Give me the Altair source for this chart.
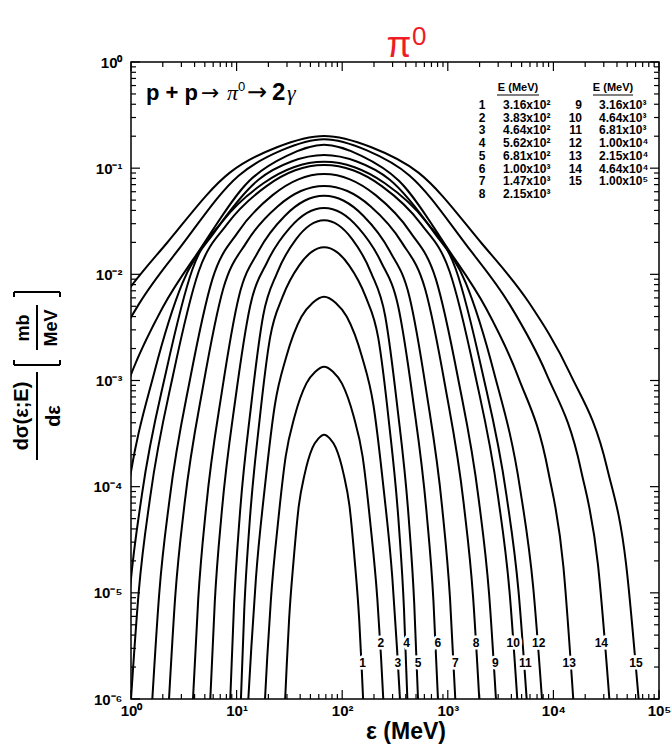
import altair as alt
import pandas as pd

# log10(eps / MeV) and log10(dsigma/deps / (mb/MeV)) along each curve
c01_log_eps = [1.460, 1.475, 1.497, 1.541, 1.589, 1.644, 1.718, 1.774, 1.829, 1.884, 1.940, 2.014, 2.069, 2.117, 2.161, 2.183, 2.198]
c01_log_sig = [-6.0, -5.676, -5.253, -4.68, -4.182, -3.884, -3.635, -3.547, -3.51, -3.547, -3.635, -3.884, -4.182, -4.68, -5.253, -5.676, -6.0]
c02_log_eps = [1.269, 1.291, 1.325, 1.392, 1.465, 1.549, 1.661, 1.745, 1.829, 1.913, 1.997, 2.109, 2.193, 2.266, 2.333, 2.367, 2.389]
c02_log_sig = [-6.0, -5.593, -5.061, -4.341, -3.715, -3.34, -3.027, -2.917, -2.87, -2.917, -3.027, -3.34, -3.715, -4.341, -5.061, -5.593, -6.0]
c03_log_eps = [1.111, 1.140, 1.183, 1.269, 1.362, 1.470, 1.614, 1.721, 1.829, 1.937, 2.044, 2.188, 2.296, 2.389, 2.475, 2.518, 2.547]
c03_log_sig = [-6.0, -5.507, -4.863, -3.991, -3.233, -2.779, -2.40, -2.267, -2.21, -2.267, -2.40, -2.779, -3.233, -3.991, -4.863, -5.507, -6.0]
c04_log_eps = [1.041, 1.073, 1.120, 1.214, 1.317, 1.435, 1.593, 1.711, 1.829, 1.947, 2.065, 2.223, 2.341, 2.444, 2.538, 2.585, 2.617]
c04_log_sig = [-6.0, -5.149, -4.383, -3.404, -2.596, -2.213, -1.915, -1.788, -1.745, -1.788, -1.915, -2.213, -2.596, -3.404, -4.383, -5.149, -6.0]
c05_log_eps = [0.940, 0.976, 1.029, 1.136, 1.251, 1.384, 1.562, 1.696, 1.829, 1.962, 2.096, 2.274, 2.407, 2.522, 2.629, 2.682, 2.718]
c05_log_sig = [-6.0, -5.098, -4.286, -3.249, -2.392, -1.986, -1.67, -1.535, -1.49, -1.535, -1.67, -1.986, -2.392, -3.249, -4.286, -5.098, -6.0]
c06_log_eps = [0.751, 0.794, 0.859, 0.988, 1.128, 1.290, 1.506, 1.667, 1.829, 1.991, 2.152, 2.368, 2.530, 2.670, 2.799, 2.864, 2.907]
c06_log_sig = [-6.0, -5.075, -4.243, -3.179, -2.30, -1.884, -1.56, -1.421, -1.375, -1.421, -1.56, -1.884, -2.30, -3.179, -4.243, -5.075, -6.0]
c07_log_eps = [0.587, 0.637, 0.711, 0.860, 1.022, 1.208, 1.456, 1.643, 1.829, 2.015, 2.202, 2.450, 2.636, 2.798, 2.947, 3.021, 3.071]
c07_log_sig = [-6.0, -5.052, -4.199, -3.109, -2.208, -1.781, -1.45, -1.307, -1.26, -1.307, -1.45, -1.781, -2.208, -3.109, -4.199, -5.052, -6.0]
c08_log_eps = [0.360, 0.419, 0.507, 0.683, 0.874, 1.094, 1.388, 1.609, 1.829, 2.049, 2.270, 2.564, 2.784, 2.975, 3.151, 3.239, 3.298]
c08_log_sig = [-6.0, -5.033, -4.163, -3.052, -2.134, -1.699, -1.36, -1.215, -1.167, -1.215, -1.36, -1.699, -2.134, -3.052, -4.163, -5.033, -6.0]
c09_log_eps = [0.202, 0.267, 0.365, 0.560, 0.771, 1.015, 1.341, 1.585, 1.829, 2.073, 2.317, 2.643, 2.887, 3.098, 3.293, 3.391, 3.456]
c09_log_sig = [-6.0, -5.011, -4.121, -2.984, -2.045, -1.60, -1.254, -1.105, -1.056, -1.105, -1.254, -1.60, -2.045, -2.984, -4.121, -5.011, -6.0]
c10_log_eps = [0.0, 0.073, 0.183, 0.402, 0.640, 0.914, 1.280, 1.555, 1.829, 2.103, 2.378, 2.744, 3.018, 3.256, 3.475, 3.585, 3.658]
c10_log_sig = [-6.0, -4.994, -4.089, -2.932, -1.976, -1.523, -1.171, -1.02, -0.97, -1.02, -1.171, -1.523, -1.976, -2.932, -4.089, -4.994, -6.0]
c11_log_eps = [-0.089, -0.012, 0.103, 0.333, 0.582, 0.870, 1.254, 1.541, 1.829, 2.117, 2.404, 2.788, 3.076, 3.325, 3.555, 3.670, 3.747]
c11_log_sig = [-6.0, -4.988, -4.077, -2.913, -1.952, -1.497, -1.142, -0.991, -0.94, -0.991, -1.142, -1.497, -1.952, -2.913, -4.077, -4.988, -6.0]
c12_log_eps = [-0.234, -0.151, -0.028, 0.220, 0.488, 0.797, 1.210, 1.520, 1.829, 2.138, 2.448, 2.861, 3.170, 3.438, 3.686, 3.809, 3.892]
c12_log_sig = [-6.0, -4.95, -4.027, -2.926, -2.08, -1.593, -1.107, -0.937, -0.876, -0.937, -1.107, -1.593, -2.08, -2.926, -4.027, -4.95, -6.0]
c13_log_eps = [-0.530, -0.436, -0.294, -0.011, 0.296, 0.649, 1.121, 1.475, 1.829, 2.183, 2.537, 3.009, 3.362, 3.669, 3.952, 4.094, 4.188]
c13_log_sig = [-6.0, -4.747, -3.86, -2.972, -2.32, -1.772, -1.119, -0.884, -0.78, -0.884, -1.119, -1.772, -2.32, -2.972, -3.86, -4.747, -6.0]
c14_log_eps = [-0.872, -0.764, -0.602, -0.278, 0.073, 0.478, 1.019, 1.424, 1.829, 2.234, 2.639, 3.180, 3.585, 3.936, 4.260, 4.422, 4.530]
c14_log_sig = [-6.0, -4.735, -3.838, -2.942, -2.283, -1.73, -1.071, -0.833, -0.728, -0.833, -1.071, -1.73, -2.283, -2.942, -3.838, -4.735, -6.0]
c15_log_eps = [-1.149, -1.030, -0.851, -0.494, -0.107, 0.340, 0.936, 1.382, 1.829, 2.276, 2.722, 3.318, 3.765, 4.152, 4.509, 4.688, 4.807]
c15_log_sig = [-6.0, -4.727, -3.826, -2.924, -2.261, -1.705, -1.042, -0.803, -0.697, -0.803, -1.042, -1.705, -2.261, -2.924, -3.826, -4.727, -6.0]

curves = [
    (c01_log_eps, c01_log_sig), (c02_log_eps, c02_log_sig), (c03_log_eps, c03_log_sig),
    (c04_log_eps, c04_log_sig), (c05_log_eps, c05_log_sig), (c06_log_eps, c06_log_sig),
    (c07_log_eps, c07_log_sig), (c08_log_eps, c08_log_sig), (c09_log_eps, c09_log_sig),
    (c10_log_eps, c10_log_sig), (c11_log_eps, c11_log_sig), (c12_log_eps, c12_log_sig),
    (c13_log_eps, c13_log_sig), (c14_log_eps, c14_log_sig), (c15_log_eps, c15_log_sig),
]

# proton kinetic energies listed in the key
beam_energy = ["3.16x10²", "3.83x10²", "4.64x10²", "5.62x10²", "6.81x10²",
               "1.00x10³", "1.47x10³", "2.15x10³", "3.16x10³", "4.64x10³",
               "6.81x10³", "1.00x10⁴", "2.15x10⁴", "4.64x10⁴", "1.00x10⁵"]

# curve number tags near the bottom of each curve (eps in MeV, sigma in mb/MeV)
tag_eps = [156, 232, 336, 408, 522, 807, 1178, 1849, 2818, 4169, 5420, 7261, 14125, 28445, 60534]
tag_sig = [2.2e-6, 3.4e-6, 2.2e-6, 3.4e-6, 2.2e-6, 3.4e-6, 2.2e-6, 3.4e-6,
           2.2e-6, 3.4e-6, 2.2e-6, 3.4e-6, 2.2e-6, 3.4e-6, 2.2e-6]

W, H = 528, 637          # plot area
X0, Y0 = 131, 62         # plot origin on the page
FONT = "Liberation Sans"

rows = []
for cid, (le, ls) in enumerate(curves, start=1):
    for a, b in zip(le, ls):
        rows.append({"curve": cid, "eps": 10 ** a, "sigma": 10 ** b})
curve_df = pd.DataFrame(rows)

tag_df = pd.DataFrame({"num": [str(i) for i in range(1, 16)], "eps": tag_eps, "sigma": tag_sig})

xscale = alt.Scale(type="log", domain=[1, 1e5], nice=False)
yscale = alt.Scale(type="log", domain=[1e-6, 1], nice=False)

SUP = "'⁰¹²³⁴⁵⁶'"
x_axis = alt.Axis(
    values=[1, 10, 100, 1000, 10000, 100000],
    labelExpr=f"'10' + substring({SUP}, round(log(datum.value)/LN10), round(log(datum.value)/LN10) + 1)",
    ticks=False, domain=False, grid=False, title=None,
    labelFont=FONT, labelFontWeight="bold", labelFontSize=15, labelColor="black",
    labelPadding=4, labelFlush=False, labelOverlap=False,
)
y_axis = alt.Axis(
    values=[1e-6, 1e-5, 1e-4, 1e-3, 1e-2, 1e-1, 1],
    labelExpr=f"'10' + (datum.value < 0.5 ? '⁻' : '') + substring({SUP}, abs(round(log(datum.value)/LN10)), abs(round(log(datum.value)/LN10)) + 1)",
    ticks=False, domain=False, grid=False, title=None,
    labelFont=FONT, labelFontWeight="bold", labelFontSize=15, labelColor="black",
    labelPadding=9, labelFlush=False, labelOverlap=False,
)

X = lambda f: alt.X(f, type="quantitative", scale=xscale, axis=x_axis)
Y = lambda f: alt.Y(f, type="quantitative", scale=yscale, axis=y_axis)

lines = alt.Chart(curve_df).mark_line(
    color="black", strokeWidth=2, clip=True, interpolate="monotone"
).encode(x=X("eps"), y=Y("sigma"), detail="curve:N")

tag_halo = alt.Chart(tag_df).mark_text(
    font=FONT, fontWeight="bold", fontSize=12, fill="white", stroke="white", strokeWidth=5
).encode(x=X("eps"), y=Y("sigma"), text="num:N")
tag_text = alt.Chart(tag_df).mark_text(
    font=FONT, fontWeight="bold", fontSize=12, color="black"
).encode(x=X("eps"), y=Y("sigma"), text="num:N")

# inward tick marks on all four sides
x_major = pd.DataFrame({"v": [10 ** k for k in range(0, 6)]})
x_minor = pd.DataFrame({"v": [m * 10 ** k for k in range(0, 5) for m in range(2, 10)]})
y_major = pd.DataFrame({"v": [10.0 ** k for k in range(-6, 1)]})
y_minor = pd.DataFrame({"v": [m * 10.0 ** k for k in range(-6, 0) for m in range(2, 10)]})

ticks = []
for df, L in [(x_major, 9), (x_minor, 5)]:
    ticks.append(alt.Chart(df).mark_rule(color="black", strokeWidth=1.2).encode(
        x=X("v"), y=alt.value(H), y2=alt.value(H - L)))
    ticks.append(alt.Chart(df).mark_rule(color="black", strokeWidth=1.2).encode(
        x=X("v"), y=alt.value(0), y2=alt.value(L)))
for df, L in [(y_major, 9), (y_minor, 5)]:
    ticks.append(alt.Chart(df).mark_rule(color="black", strokeWidth=1.2).encode(
        y=Y("v"), x=alt.value(0), x2=alt.value(L)))
    ticks.append(alt.Chart(df).mark_rule(color="black", strokeWidth=1.2).encode(
        y=Y("v"), x=alt.value(W), x2=alt.value(W - L)))

one = pd.DataFrame({"a": [0]})


def text(txt, x, y, size, weight="bold", font=FONT, style="normal", angle=0,
         align="left", baseline="alphabetic", color="black"):
    return alt.Chart(one).mark_text(
        text=txt, fontSize=size, fontWeight=weight, font=font, fontStyle=style,
        angle=angle, align=align, baseline=baseline, color=color
    ).encode(x=alt.value(x - X0), y=alt.value(y - Y0))


def hline(x1, x2, y, w=1.2):
    return alt.Chart(one).mark_rule(color="black", strokeWidth=w).encode(
        x=alt.value(x1 - X0), x2=alt.value(x2 - X0), y=alt.value(y - Y0))


def vline(x, y1, y2, w=1.2):
    return alt.Chart(one).mark_rule(color="black", strokeWidth=w).encode(
        x=alt.value(x - X0), y=alt.value(y1 - Y0), y2=alt.value(y2 - Y0))


notes = []
# title
notes.append(text("π", 399, 57, 36, weight="normal", align="center", color="#ee1c25"))
notes.append(text("0", 412, 45, 26, weight="normal", color="#ee1c25"))

# reaction
notes.append(text("p + p", 146, 100, 22))
notes.append(text("→", 201, 100, 22, weight="normal", font="DejaVu Sans"))
notes.append(text("π", 227, 100, 22, weight="normal", font="Liberation Serif", style="italic"))
notes.append(text("0", 238, 91, 13, weight="normal"))
notes.append(text("→", 247, 100, 24, weight="normal", font="DejaVu Sans"))
notes.append(text("2", 272, 100, 24))
notes.append(text("γ", 287, 100, 22, weight="normal", font="Liberation Serif", style="italic"))

# key of proton energies
notes.append(text("E (MeV)", 518, 91, 11, align="center"))
notes.append(hline(497, 539, 95))
notes.append(text("E (MeV)", 613, 91, 11, align="center"))
notes.append(hline(593, 633, 95))
for i, e in enumerate(beam_energy):
    col, row = divmod(i, 8)
    yb = 109 + 12.7 * row
    if col == 0:
        notes.append(text(str(i + 1), 482, yb, 12, align="center"))
        notes.append(text(e, 503, yb, 12))
    else:
        notes.append(text(str(i + 1), 582, yb, 12, align="right"))
        notes.append(text(e, 599, yb, 12))

# y title: d sigma(eps;E)/d eps [mb/MeV], rotated
notes.append(text("dσ(ε;E)", 22, 416, 20, angle=270, align="center", baseline="middle"))
notes.append(vline(37, 372, 460, 2))
notes.append(text("dε", 54, 416, 20, angle=270, align="center", baseline="middle"))
notes.append(hline(14, 60, 365, 2))
notes.append(vline(14, 360, 365, 2))
notes.append(vline(60, 360, 365, 2))
notes.append(text("mb", 24, 328, 18, angle=270, align="center", baseline="middle"))
notes.append(vline(37, 305, 350, 2))
notes.append(text("MeV", 52, 328, 18, angle=270, align="center", baseline="middle"))
notes.append(hline(14, 60, 292, 2))
notes.append(vline(14, 292, 297, 2))
notes.append(vline(60, 292, 297, 2))

# x title
notes.append(text("ε (MeV)", 406, 732, 23, align="center", baseline="middle"))

chart = alt.layer(lines, *ticks, tag_halo, tag_text, *notes).properties(
    width=W, height=H,
    autosize=alt.AutoSizeParams(type="none"),
    padding={"left": X0, "top": Y0, "right": 671 - X0 - W, "bottom": 747 - Y0 - H},
).configure_view(stroke="black", strokeWidth=1.5)

chart.save("out.html", embed_options={"renderer": "svg", "actions": False})
